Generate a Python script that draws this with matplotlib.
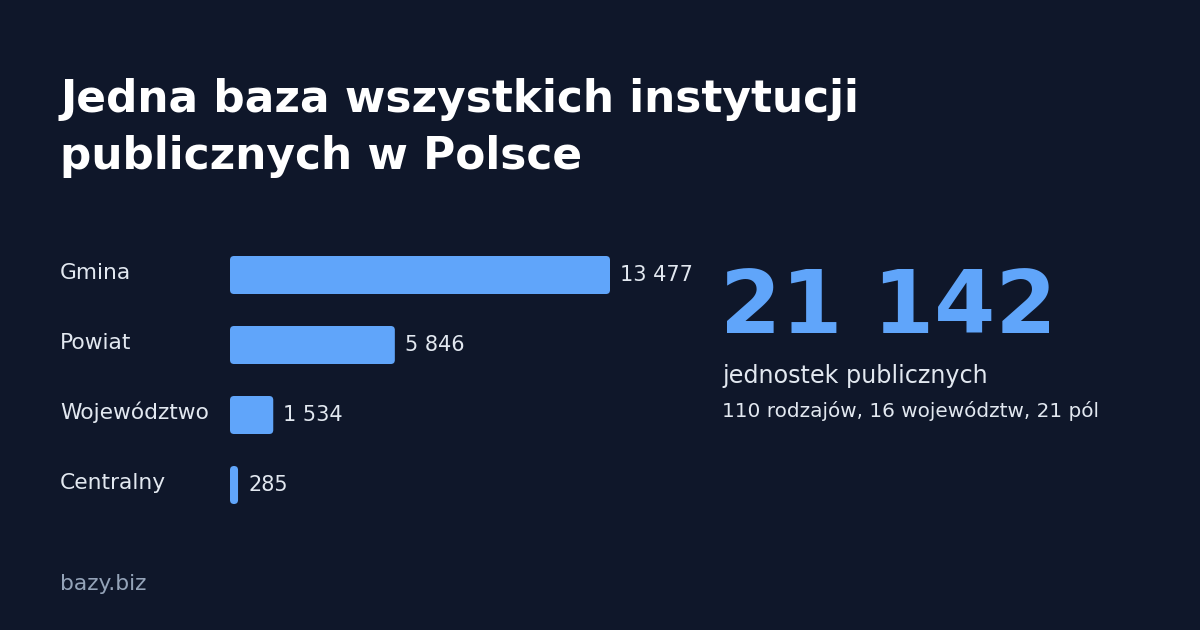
import matplotlib
matplotlib.use("Agg")
import matplotlib.pyplot as plt
from matplotlib.patches import FancyBboxPatch

# data
categories = ["Gmina", "Powiat", "Województwo", "Centralny"]
values = [13477, 5846, 1534, 285]
total_label = "21 142"
total_caption = "jednostek publicznych"
total_detail = "110 rodzajów, 16 województw, 21 pól"

BG = "#0f172a"
BLUE = "#60a5fa"
TEXT = "#e2e8f0"
W, H = 1200, 630

plt.rcParams["font.family"] = ["DejaVu Sans"]

fig = plt.figure(figsize=(W / 100, H / 100), dpi=100, facecolor=BG)


def px(x, y):
    # pixel position (from top-left) -> figure fraction
    return x / W, 1 - y / H


def fmt(v):
    return f"{v:,}".replace(",", " ")


# title
fig.text(*px(60, 112), "Jedna baza wszystkich instytucji", color="white",
         fontsize=31.6, fontweight="bold", va="baseline")
fig.text(*px(60, 169), "publicznych w Polsce", color="white",
         fontsize=31.6, fontweight="bold", va="baseline")

# bar axes: left 230px, 380px wide, rows of 70px from y=240
ax = fig.add_axes([230 / W, 1 - 520 / H, 380 / W, 280 / H])
ax.set_facecolor(BG)
ax.set_xlim(0, max(values))
ax.set_ylim(len(values) - 0.5, -0.5)
ax.axis("off")

bar_h = 38 / 70
bars = ax.barh(range(len(values)), values, height=bar_h, color=BLUE)
x_per_px = max(values) / 380
y_per_px = 1 / 70
for b in bars:
    b.set_visible(False)
    r = min(4 * x_per_px, b.get_width() / 2)
    ax.add_patch(FancyBboxPatch((b.get_x(), b.get_y()), b.get_width(), b.get_height(),
                                boxstyle=f"round,pad=0,rounding_size={r}",
                                mutation_aspect=y_per_px / x_per_px,
                                facecolor=BLUE, edgecolor="none"))

for i, (cat, v) in enumerate(zip(categories, values)):
    yb = 279 + 70 * i
    fig.text(*px(60, yb), cat, color=TEXT, fontsize=15.7, va="baseline")
    ax.annotate(fmt(v), xy=(v, i), xytext=(10, -6), textcoords="offset pixels",
                color=TEXT, fontsize=15, va="baseline", ha="left")

# big total
fig.text(*px(720, 333), total_label, color=BLUE, fontsize=63.4,
         fontweight="bold", va="baseline")
fig.text(*px(722, 383), total_caption, color=TEXT, fontsize=17.2, va="baseline")
fig.text(*px(722, 417), total_detail, color=TEXT, fontsize=14.4, va="baseline")

# footer
fig.text(*px(60, 590), "bazy.biz", color="#94a3b8", fontsize=15.7, va="baseline")

fig.savefig("out.png", dpi=100, facecolor=BG)
